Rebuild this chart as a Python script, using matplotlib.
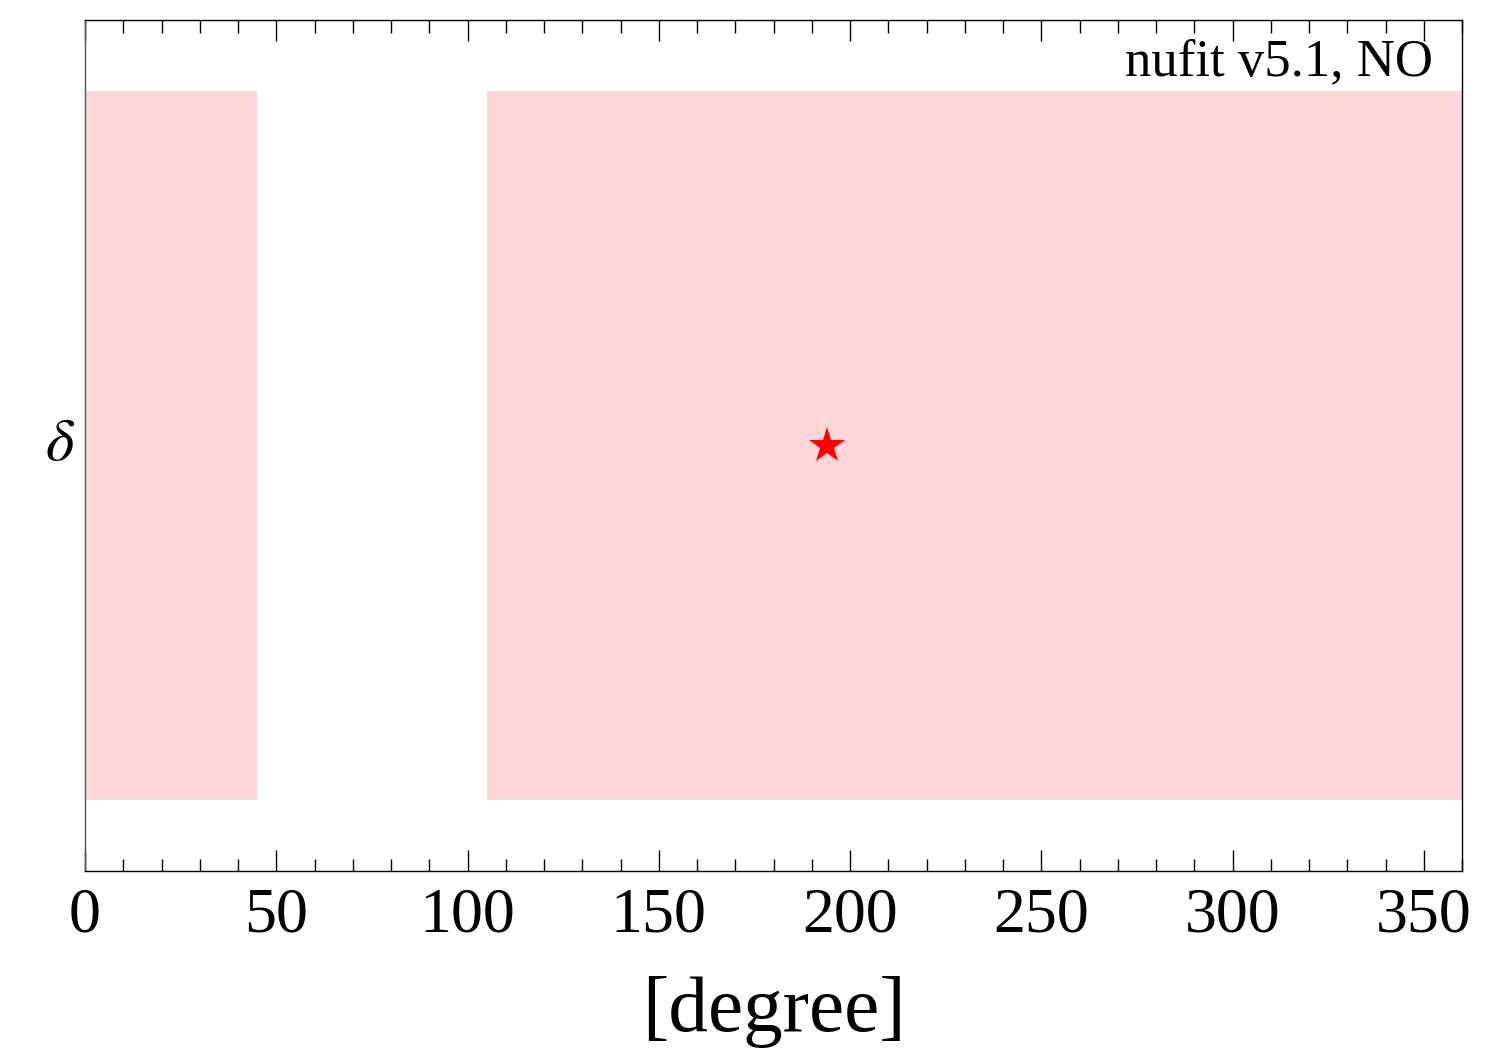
import matplotlib.pyplot as plt
from matplotlib.ticker import MultipleLocator

# allowed delta ranges (degrees) and best fit
delta_ranges = [(0, 45), (105, 360)]
delta_best = 194
band_low, band_high = -0.5, 0.5

plt.rcParams['font.family'] = ['Liberation Serif', 'DejaVu Serif']
plt.rcParams['mathtext.fontset'] = 'stix'


def create_plot():
    fig = plt.figure(figsize=(14.86, 10.49), dpi=100)
    ax = fig.add_axes([85 / 1486, 1 - 871 / 1049, 1377 / 1486, 851 / 1049])

    for lo, hi in delta_ranges:
        ax.fill_between([lo, hi], band_low, band_high, color='#ffd6d8', lw=0)
    ax.plot([delta_best], [0], marker='*', color='red', ms=27, mew=0)

    ax.set_xlim(0, 360)
    ax.set_ylim(-0.6, 0.6)
    ax.xaxis.set_major_locator(MultipleLocator(50))
    ax.xaxis.set_minor_locator(MultipleLocator(10))
    ax.tick_params(axis='x', which='both', direction='in', top=True,
                   labelsize=46, pad=12)
    ax.tick_params(axis='x', which='major', length=15, width=1)
    ax.tick_params(axis='x', which='minor', length=9, width=1)
    ax.set_yticks([])
    for sp in ax.spines.values():
        sp.set_linewidth(1)
    ax.spines['left'].set_color('#555555')

    ax.set_xlabel('[degree]', fontsize=57, labelpad=22)
    ax.set_ylabel(r'$\delta$', fontsize=44, rotation=0, labelpad=18, va='center')
    ax.text(0.979, 0.978, 'nufit v5.1, NO', transform=ax.transAxes,
            ha='right', va='top', fontsize=38)

    fig.savefig('out.png', dpi=100)


if __name__ == "__main__":
    create_plot()
